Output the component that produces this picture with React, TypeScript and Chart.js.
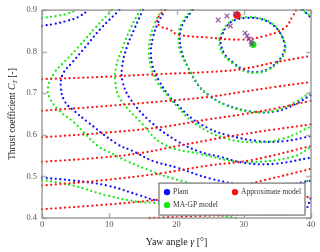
import React, { useEffect, useRef } from "react";
import { Chart, registerables } from "chart.js";

Chart.register(...registerables);

type Pt = [number, number];

// ---- axes / labels ----
const X_TICKS = [0, 10, 20, 30, 40];
const Y_TICKS = [0.4, 0.5, 0.6, 0.7, 0.8, 0.9];
const LEGEND_LABELS = ["Plant", "Approximate model", "MA-GP model"];
const X_TITLE = ["Yaw angle ", "γ", " [°]"];
const Y_TITLE = ["Thrust coefficient ", "C", "T", " [-]"];

// ---- Plant (blue) contour lines, [yaw, C_T] ----
const plantInner: Pt[] = [[26.6,0.834],[27.5,0.862],[28.7,0.876],[30.5,0.881],[32.4,0.879],[33.9,0.869],[35.2,0.850],[36.1,0.815],[35.8,0.793],[34.9,0.774],[33.6,0.758],[32.0,0.751],[30.2,0.755],[28.4,0.774],[27.2,0.793],[26.6,0.817],[26.6,0.834]];
const plantRing2: Pt[] = [[22.45,0.9],[21.0,0.869],[20.5,0.838],[20.8,0.798],[21.7,0.763],[23.2,0.720],[24.7,0.696],[27.2,0.673],[31.2,0.656],[34.6,0.656],[37.6,0.673],[40,0.696]];
const plantCornerTR: Pt[] = [[38.8,0.9],[39.4,0.891],[40,0.881]];
const plantRing3: Pt[] = [[18.3,0.9],[17.25,0.869],[16.5,0.834],[16.2,0.798],[16.5,0.763],[17.5,0.727],[19.0,0.691],[20.1,0.673],[22.3,0.639],[24.7,0.616],[27.2,0.601],[32.1,0.585],[36.1,0.585],[40,0.597]];
const plantRing4: Pt[] = [[15.0,0.9],[13.8,0.857],[12.6,0.810],[11.9,0.763],[12.0,0.727],[13.1,0.687],[16.1,0.632],[20.1,0.585],[23.5,0.559],[26.5,0.547],[29.9,0.533],[34.35,0.530],[40,0.545]];
const plantRing5: Pt[] = [[11.5,0.9],[8.6,0.853],[6.4,0.810],[4.5,0.774],[3.1,0.746],[2.8,0.715],[3.4,0.680],[4.9,0.656],[6.7,0.632],[11.15,0.578],[13.5,0.561],[16.5,0.537],[20.1,0.521],[25.0,0.495],[30.9,0.478],[36.9,0.481],[40,0.490]];
const plantCornerTL: Pt[] = [[0,0.862],[1.9,0.867],[3.7,0.874],[5.35,0.883],[6.8,0.898],[7.0,0.9]];
const plantLow: Pt[] = [[0,0.497],[4.6,0.490],[9.7,0.478],[14.6,0.454],[16.8,0.443],[23.5,0.424],[29.9,0.412],[36.9,0.410],[39.1,0.419],[40,0.45]];

// ---- MA-GP model (green) contour lines ----
const gpInner: Pt[] = [[26.4,0.832],[27.3,0.861],[28.6,0.877],[30.4,0.883],[32.4,0.880],[34.0,0.870],[35.3,0.849],[36.2,0.814],[35.9,0.791],[35.0,0.772],[33.6,0.756],[31.9,0.749],[30.1,0.753],[28.3,0.772],[27.0,0.792],[26.4,0.816],[26.4,0.832]];
const gpRing2: Pt[] = [[22.2,0.9],[20.8,0.869],[20.3,0.838],[20.6,0.798],[21.8,0.760],[23.4,0.717],[25.0,0.693],[27.5,0.670],[31.2,0.655],[34.6,0.658],[37.6,0.678],[40,0.703]];
const gpCornerTR: Pt[] = [[38.5,0.9],[39.3,0.893],[40,0.885]];
const gpRing3: Pt[] = [[17.8,0.9],[16.8,0.869],[16.1,0.834],[15.9,0.798],[16.2,0.763],[17.1,0.727],[18.6,0.696],[20.1,0.668],[22.75,0.627],[27.2,0.592],[32.1,0.582],[36.1,0.592],[40,0.620]];
const gpRing4: Pt[] = [[14.6,0.9],[13.2,0.857],[12.0,0.810],[11.0,0.763],[10.9,0.727],[11.6,0.687],[14.6,0.632],[18.0,0.578],[23.5,0.554],[29.9,0.535],[37.3,0.547],[40,0.571]];
const gpRing5: Pt[] = [[10.4,0.9],[7.9,0.857],[5.35,0.810],[3.0,0.770],[1.9,0.751],[0.9,0.715],[1.2,0.687],[2.7,0.656],[4.6,0.632],[8.3,0.573],[9.7,0.561],[12.6,0.537],[16.1,0.514],[19.0,0.497],[26.5,0.468],[33.9,0.465],[38.4,0.480],[40,0.495]];
const gpCornerTL: Pt[] = [[0,0.881],[2.2,0.886],[3.7,0.891],[5.2,0.9]];
const gpLow: Pt[] = [[0,0.492],[4.6,0.478],[9.7,0.454],[14.6,0.438],[16.8,0.436],[23.5,0.414],[29.0,0.4]];

// ---- Approximate model (red) contour lines ----
const approxTop: Pt[] = [[18.3,0.9],[17.5,0.888],[17.1,0.874],[17.5,0.862],[19.0,0.853],[20.2,0.841],[24.7,0.834],[29.7,0.829],[33.2,0.838],[36.1,0.857],[37.3,0.886],[37.8,0.9]];
const approx1: Pt[] = [[0,0.734],[8.6,0.739],[17.5,0.746],[24.7,0.751],[29.7,0.758],[34.6,0.774],[40,0.790]];
const approx2: Pt[] = [[0,0.658],[8.6,0.668],[17.5,0.680],[24.7,0.691],[29.7,0.703],[34.6,0.715],[40,0.727]];
const approx3: Pt[] = [[0,0.594],[8.6,0.604],[17.5,0.618],[24.7,0.637],[29.7,0.649],[34.6,0.663],[40,0.682]];
const approx4: Pt[] = [[0,0.535],[8.6,0.545],[14.6,0.556],[20.1,0.573],[24.7,0.587],[29.7,0.601],[34.6,0.613],[40,0.625]];
const approx5: Pt[] = [[0,0.478],[8.6,0.490],[17.5,0.507],[24.7,0.526],[31.4,0.540],[40,0.573]];
const approx6: Pt[] = [[0,0.421],[8.6,0.431],[16.8,0.443],[23.5,0.459],[30.9,0.483],[40,0.518]];
const approx7: Pt[] = [[16,0.4],[23.5,0.405],[29.9,0.409],[35.4,0.424],[40,0.454]];

// ---- iterates and optima ----
const iterates: Pt[] = [[26.2,0.876],[27.5,0.886],[28.8,0.891],[28.0,0.862],[30.2,0.845],[30.5,0.838],[30.8,0.831],[31.1,0.824],[31.2,0.819]];
const approxOptimum: Pt[] = [[29.0,0.888]];
const gpOptimum: Pt[] = [[31.4,0.817]];

const plantLines = [plantInner, plantRing2, plantCornerTR, plantRing3, plantRing4, plantRing5, plantCornerTL, plantLow];
const gpLines = [gpInner, gpRing2, gpCornerTR, gpRing3, gpRing4, gpRing5, gpCornerTL, gpLow];
const approxLines = [approxTop, approx1, approx2, approx3, approx4, approx5, approx6, approx7];

const BLUE = "rgb(15,15,255)";
const GREEN = "rgb(20,235,20)";
const RED = "rgb(255,15,15)";
const PURPLE = "rgba(135,60,145,0.85)";

const SERIF = "'Liberation Serif', 'DejaVu Serif', serif";

const toXY = (pts: Pt[]) => pts.map(([x, y]) => ({ x, y }));

const dotted = (pts: Pt[], color: string, order: number) => ({
  data: toXY(pts),
  showLine: true,
  borderColor: color,
  backgroundColor: color,
  borderWidth: 2.3,
  borderDash: [0, 4.6],
  borderCapStyle: "round",
  pointRadius: 0,
  pointHoverRadius: 0,
  tension: 0.4,
  capBezierPoints: false,
  order,
  clip: 1,
});

function drawRich(ctx: CanvasRenderingContext2D, parts: { t: string; font: string; dy: number }[], cx: number, cy: number) {
  let total = 0;
  const widths = parts.map((p) => {
    ctx.font = p.font;
    const w = ctx.measureText(p.t).width;
    total += w;
    return w;
  });
  let x = cx - total / 2;
  ctx.textAlign = "left";
  ctx.textBaseline = "alphabetic";
  parts.forEach((p, i) => {
    ctx.font = p.font;
    ctx.fillText(p.t, x, cy + p.dy);
    x += widths[i];
  });
}

const decorPlugin = {
  id: "decor",
  afterDatasetsDraw(chart: any) {
    const { ctx, chartArea: a, scales } = chart;
    const xs = scales.x;
    const ys = scales.y;
    ctx.save();
    // inward tick marks on all four sides
    ctx.strokeStyle = "#b4b4b4";
    ctx.lineWidth = 1.5;
    const L = 5;
    ctx.beginPath();
    X_TICKS.forEach((v) => {
      const px = Math.round(xs.getPixelForValue(v)) + 0.5;
      ctx.moveTo(px, a.bottom);
      ctx.lineTo(px, a.bottom - L);
      ctx.moveTo(px, a.top);
      ctx.lineTo(px, a.top + L);
    });
    Y_TICKS.forEach((v) => {
      const py = Math.round(ys.getPixelForValue(v)) + 0.5;
      ctx.moveTo(a.left, py);
      ctx.lineTo(a.left + L, py);
      ctx.moveTo(a.right, py);
      ctx.lineTo(a.right - L, py);
    });
    ctx.stroke();
    // frame
    ctx.strokeStyle = "#8e8e8e";
    ctx.lineWidth = 1.3;
    ctx.strokeRect(a.left, a.top, a.right - a.left, a.bottom - a.top);

    // legend box
    const lx = a.left + 117;
    const ly = a.top + 173;
    const lw = 146;
    const lh = 32;
    ctx.fillStyle = "#ffffff";
    ctx.fillRect(lx, ly, lw, lh);
    ctx.strokeStyle = "#7d7d7d";
    ctx.lineWidth = 1.3;
    ctx.strokeRect(lx, ly, lw, lh);
    const items = [
      { label: LEGEND_LABELS[0], color: BLUE, mx: lx + 8, my: ly + 9 },
      { label: LEGEND_LABELS[1], color: RED, mx: lx + 76, my: ly + 9 },
      { label: LEGEND_LABELS[2], color: GREEN, mx: lx + 8, my: ly + 22 },
    ];
    items.forEach((it) => {
      ctx.fillStyle = it.color;
      ctx.beginPath();
      ctx.arc(it.mx, it.my, 3.2, 0, Math.PI * 2);
      ctx.fill();
      ctx.fillStyle = "#333";
      ctx.font = `7.5px ${SERIF}`;
      ctx.textAlign = "left";
      ctx.textBaseline = "middle";
      ctx.fillText(it.label, it.mx + 6, it.my);
    });

    // axis titles
    ctx.fillStyle = "#1a1a1a";
    const cx = (a.left + a.right) / 2;
    drawRich(
      ctx,
      [
        { t: X_TITLE[0], font: `10px ${SERIF}`, dy: 0 },
        { t: X_TITLE[1], font: `italic 10px ${SERIF}`, dy: 0 },
        { t: X_TITLE[2], font: `10px ${SERIF}`, dy: 0 },
      ],
      cx,
      245
    );
    ctx.save();
    ctx.translate(15, (a.top + a.bottom) / 2);
    ctx.rotate(-Math.PI / 2);
    drawRich(
      ctx,
      [
        { t: Y_TITLE[0], font: `9.5px ${SERIF}`, dy: 0 },
        { t: Y_TITLE[1], font: `italic 9.5px ${SERIF}`, dy: 0 },
        { t: Y_TITLE[2], font: `italic 6.5px ${SERIF}`, dy: 2.2 },
        { t: Y_TITLE[3], font: `9.5px ${SERIF}`, dy: 0 },
      ],
      0,
      0
    );
    ctx.restore();
    ctx.restore();
  },
};

export default function App() {
  const ref = useRef<HTMLCanvasElement | null>(null);
  useEffect(() => {
    if (!ref.current) return;
    Chart.defaults.font.family = SERIF;
    const datasets: any[] = [
      {
        label: "iterates",
        data: toXY(iterates),
        pointStyle: "crossRot",
        pointRadius: 3.3,
        pointBorderWidth: 1.2,
        borderColor: PURPLE,
        backgroundColor: PURPLE,
        order: 0,
      },
      {
        label: LEGEND_LABELS[1] + " optimum",
        data: toXY(approxOptimum),
        pointStyle: "circle",
        pointRadius: 3.4,
        borderColor: RED,
        backgroundColor: RED,
        order: 0,
      },
      {
        label: LEGEND_LABELS[2] + " optimum",
        data: toXY(gpOptimum),
        pointStyle: "circle",
        pointRadius: 3,
        borderColor: GREEN,
        backgroundColor: GREEN,
        order: 0,
      },
      ...approxLines.map((l) => ({ label: LEGEND_LABELS[1], ...dotted(l, RED, 1) })),
      ...gpLines.map((l) => ({ label: LEGEND_LABELS[2], ...dotted(l, GREEN, 2) })),
      ...plantLines.map((l) => ({ label: LEGEND_LABELS[0], ...dotted(l, BLUE, 3) })),
    ];
    const chart = new Chart(ref.current, {
      type: "scatter",
      data: { datasets },
      options: {
        animation: false,
        responsive: false,
        devicePixelRatio: 1,
        layout: { padding: { top: 7, right: 9, left: 0, bottom: 0 } },
        plugins: { legend: { display: false }, tooltip: { enabled: false } },
        events: [],
        scales: {
          x: {
            type: "linear",
            min: 0,
            max: 40,
            afterBuildTicks: (s: any) => {
              s.ticks = X_TICKS.map((v) => ({ value: v }));
            },
            ticks: { font: { size: 8.5, family: SERIF }, color: "#555", padding: 2, maxRotation: 0 },
            grid: { display: false, drawTicks: false },
            border: { display: false },
            afterFit: (s: any) => {
              s.height = 34;
            },
          },
          y: {
            type: "linear",
            min: 0.4,
            max: 0.9,
            afterBuildTicks: (s: any) => {
              s.ticks = Y_TICKS.map((v) => ({ value: v }));
            },
            ticks: {
              font: { size: 8.5, family: SERIF },
              color: "#555",
              padding: 5,
              callback: (v: any) => Number(v).toFixed(1),
            },
            grid: { display: false, drawTicks: false },
            border: { display: false },
            afterFit: (s: any) => {
              s.width = 42;
            },
          },
        },
      } as any,
      plugins: [decorPlugin],
    });
    return () => chart.destroy();
  }, []);
  return (
    <div style={{ position: "fixed", left: 0, top: 0, width: 320, height: 252, background: "#fff" }}>
      <canvas ref={ref} width={320} height={252} style={{ display: "block" }} />
    </div>
  );
}
